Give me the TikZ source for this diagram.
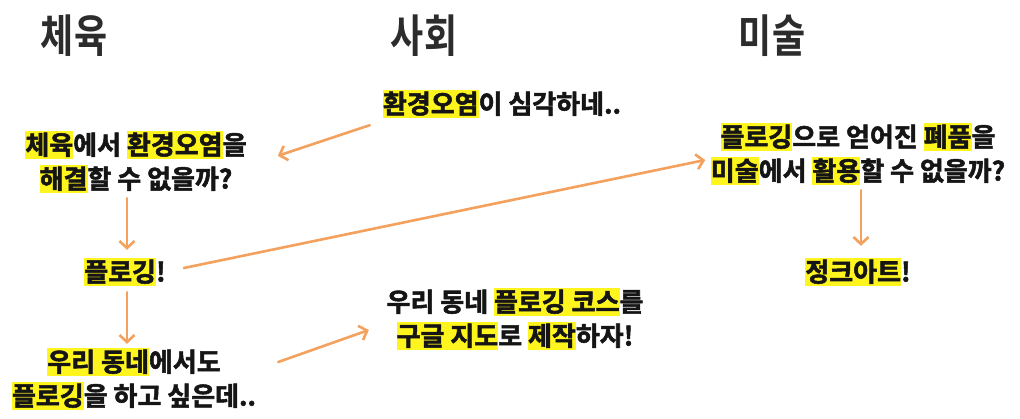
\documentclass[tikz,border=0pt]{standalone}
\usepackage{fontspec}
\setmainfont{Noto Sans CJK KR}[BoldFont={Noto Sans CJK KR Bold},BoldFeatures={FakeBold=2}]
\newfontfamily\headfont{Noto Sans CJK KR Bold}
\usetikzlibrary{arrows.meta,calc}
\definecolor{hly}{HTML}{FFF51E}
\definecolor{arrc}{HTML}{F4A15E}
\definecolor{txt}{HTML}{151515}
\newcommand\hlt[1]{{\setlength\fboxsep{0pt}\colorbox{hly}{\rule[-4.5pt]{0pt}{28pt}#1}}}
\tikzset{
  head/.style={font=\headfont\fontsize{45}{47}\selectfont, text=txt!90, inner sep=0pt},
  body/.style={font=\fontsize{26}{34}\selectfont\bfseries, text=txt, inner sep=0pt, align=center},
  arr/.style={draw=arrc, line width=2.6pt, line cap=round, -{Straight Barb[length=7pt,width=15pt,line width=2.6pt]}}
}
\begin{document}
\begin{tikzpicture}[x=1pt,y=-1pt]
\useasboundingbox[fill=white] (0,0) rectangle (1020,418);
\node[head] (h1) at (74,36) {\scalebox{0.8}[1]{체육}};
\node[head] (h2) at (424,36) {\scalebox{0.8}[1]{사회}};
\node[head] (h3) at (772,36) {\scalebox{0.8}[1]{미술}};

\node[body] (env) at (502,104) {\hlt{환경오염}이 심각하네..};
\node[body] (pe) at (136,162) {\hlt{체육}에서 \hlt{환경오염}을\\\hlt{해결}할 수 없을까?};
\node[body] (plog) at (125,272) {\hlt{플로깅}!};
\node[body] (want) at (134,379) {\hlt{우리 동네}에서도\\\hlt{플로깅}을 하고 싶은데..};
\node[body] (course) at (515,319) {우리 동네 \hlt{플로깅 코스}를\\\hlt{구글 지도}로 \hlt{제작}하자!};
\node[body] (jq) at (858,154) {\hlt{플로깅}으로 얻어진 \hlt{폐품}을\\\hlt{미술}에서 \hlt{활용}할 수 없을까?};
\node[body] (ja) at (858,272) {\hlt{정크아트}!};

\draw[arr] ($(env.south west)+(-13,7)$) -- ($(pe.north east)+(31,25)$);
\draw[arr] ($(pe.south)+(-9,5)$) -- ($(plog.north)+(2,-8)$);
\draw[arr] ($(plog.east)+(18,-4)$) -- ($(jq.west)+(-5.5,6)$);
\draw[arr] ($(plog.south)+(2,6)$) -- ($(want.north)+(-7,-4)$);
\draw[arr] ($(want.east)+(22,-17)$) -- ($(course.west)+(-17.5,11)$);
\draw[arr] ($(jq.south)+(3,5)$) -- ($(ja.north)+(3,-12)$);
\end{tikzpicture}
\end{document}
